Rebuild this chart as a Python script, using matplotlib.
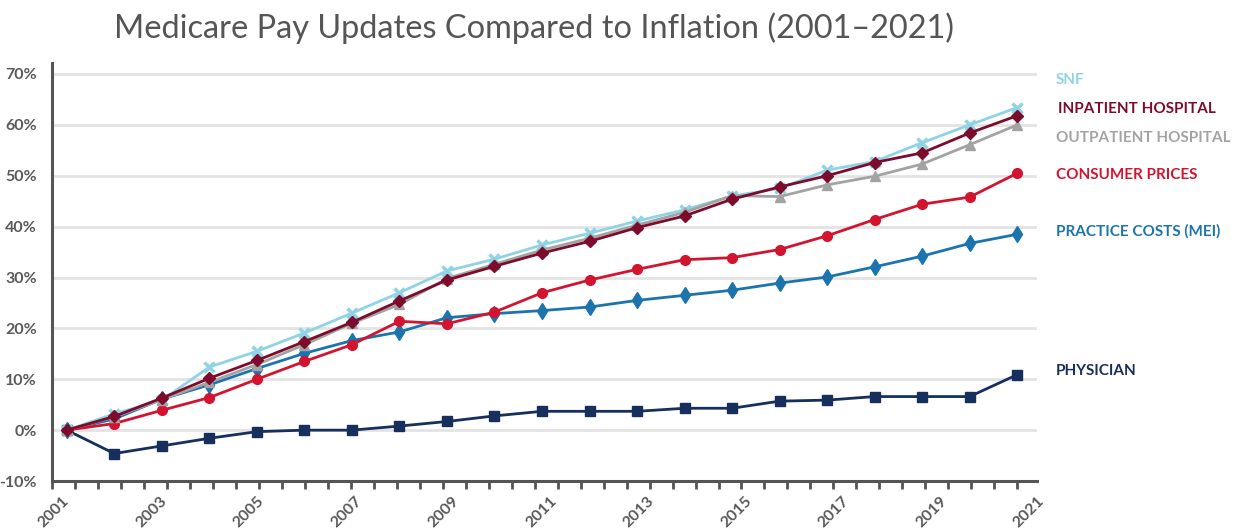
import numpy as np
import matplotlib
matplotlib.use("Agg")
import matplotlib.pyplot as plt
import matplotlib.transforms as mtransforms

plt.rcParams["font.family"] = ["Lato", "DejaVu Sans"]

years = list(range(2001, 2022))
tick_years = list(range(2001, 2022, 2))

snf = [0, 3.2, 5.9, 12.4, 15.5, 19.1, 23.0, 27.0, 31.3, 33.6, 36.4,
       38.7, 41.1, 43.3, 46.0, 47.5, 51.1, 52.8, 56.5, 60.0, 63.4]
inpatient = [0, 2.7, 6.3, 10.2, 13.7, 17.4, 21.2, 25.4, 29.5, 32.2, 34.8,
             37.1, 39.8, 42.1, 45.4, 47.8, 50.0, 52.6, 54.5, 58.4, 61.8]
outpatient = [0, 2.6, 6.0, 9.4, 12.9, 16.8, 21.0, 24.7, 29.8, 32.6, 35.4,
              37.7, 40.3, 42.8, 46.1, 45.9, 48.2, 49.9, 52.3, 56.1, 60.0]
consumer = [0, 1.3, 3.9, 6.4, 10.0, 13.5, 16.8, 21.4, 20.9, 23.2, 27.0,
            29.5, 31.6, 33.5, 33.9, 35.5, 38.2, 41.4, 44.4, 45.8, 50.5]
practice = [0, 2.2, 6.1, 8.9, 12.1, 15.1, 17.6, 19.3, 22.1, 22.9, 23.5,
            24.2, 25.5, 26.5, 27.5, 28.9, 30.1, 32.1, 34.2, 36.7, 38.5]
physician = [0, -4.6, -3.1, -1.6, -0.3, 0.0, 0.0, 0.8, 1.7, 2.8, 3.7,
             3.7, 3.7, 4.3, 4.3, 5.7, 5.9, 6.6, 6.6, 6.6, 10.9]

c_snf = "#8fd3e6"
c_inp = "#7d0c2c"
c_out = "#a3a3a3"
c_cpi = "#d3142f"
c_mei = "#1b74ad"
c_phy = "#172f5d"

fig = plt.figure(figsize=(12.37, 5.29), dpi=100)
ax = fig.add_axes([0.042, 0.0907, 0.7963, 0.7903])

ax.plot(years, physician, color=c_phy, lw=2, marker="s", ms=6.5, zorder=3)
ax.plot(years, practice, color=c_mei, lw=2, marker="d", ms=8, zorder=3)
ax.plot(years, consumer, color=c_cpi, lw=2, marker="o", ms=7, zorder=3)
ax.plot(years, snf, color=c_snf, lw=2, marker="x", ms=7, mew=2.5, zorder=3)
ax.plot(years, outpatient, color=c_out, lw=2, marker="^", ms=7, zorder=3)
ax.plot(years, inpatient, color=c_inp, lw=2, marker="D", ms=6, zorder=4)

ax.set_xlim(2000.688, 2021.187)
ax.set_ylim(-10, 72.17)

# gridlines
ax.set_yticks(np.arange(-10, 71, 10))
ax.set_yticklabels([f"{v}%" for v in range(-10, 71, 10)])
for v in range(0, 71, 10):
    ax.axhline(v, color="#e3e3e3", lw=2, zorder=1)
ax.tick_params(axis="y", length=0, pad=11, labelsize=11.5, labelcolor="#5a5a5a")
for lab in ax.get_yticklabels():
    lab.set_fontweight("bold")

# x ticks: small marks, labels every 2 years
ax.set_xticks(np.linspace(2000.694, 2021.0, 43), minor=True)
label_pos = [2001 + (62 + 49.3 * (y - 2001) - 67) / 48.05 for y in tick_years]
ax.set_xticks(label_pos)
ax.set_xticklabels([str(y) for y in tick_years], rotation=45, ha="right",
                   rotation_mode="anchor", fontweight="bold")
ax.tick_params(axis="x", which="major", length=0, pad=9, labelsize=11.5,
               labelcolor="#5a5a5a")
ax.tick_params(axis="x", which="minor", length=6, width=2, color="#555555")

for s in ["top", "right"]:
    ax.spines[s].set_visible(False)
for s in ["left", "bottom"]:
    ax.spines[s].set_color("#555555")
    ax.spines[s].set_linewidth(2.2)

# series labels on the right
trans = mtransforms.blended_transform_factory(ax.transAxes, ax.transData)
labels = [("SNF", 68.9, c_snf, 1.019),
          ("INPATIENT HOSPITAL", 63.2, c_inp, 1.021),
          ("OUTPATIENT HOSPITAL", 57.4, c_out, 1.019),
          ("CONSUMER PRICES", 50.1, c_cpi, 1.019),
          ("PRACTICE COSTS (MEI)", 39.1, c_mei, 1.019),
          ("PHYSICIAN", 11.7, c_phy, 1.019)]
for txt, yv, col, xf in labels:
    ax.text(xf, yv, txt, transform=trans, color=col, fontsize=11,
            fontweight="bold", va="center", ha="left", clip_on=False)

fig.text(0.432, 0.947, "Medicare Pay Updates Compared to Inflation (2001\u20132021)",
         ha="center", va="center", fontsize=23.4, color="#555555")

fig.savefig("out.png", dpi=100)
